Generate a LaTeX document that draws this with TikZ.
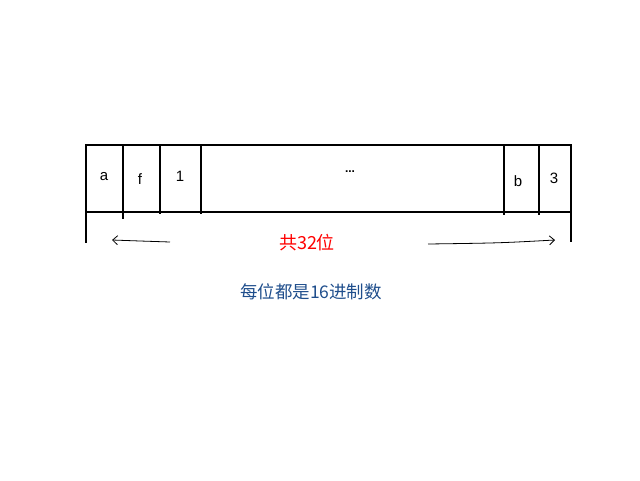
\documentclass[tikz,border=0pt]{standalone}
\usepackage{fontspec}
\setmainfont{Liberation Sans}
\newfontfamily\cjk{Noto Sans CJK SC}
\usetikzlibrary{arrows.meta}
\definecolor{redtxt}{HTML}{FF0000}
\definecolor{bluetxt}{HTML}{1F4E8C}
\begin{document}
\begin{tikzpicture}[x=1pt,y=-1pt,
  wall/.style={line width=2pt,black},
  cell/.style={font=\fontsize{15}{17}\selectfont,inner sep=0pt},
  hand/.style={line width=0.8pt,-{Straight Barb[length=5pt,width=9pt]}}]
\useasboundingbox (0,0) rectangle (640,480);
% outer box
\draw[wall] (86,145) rectangle (571,212);
\draw[wall] (123,145) -- (123,219);
\draw[wall] (160,145) -- (160,214);
\draw[wall] (201,145) -- (201,214);
\draw[wall] (504,145) -- (504,215);
\draw[wall] (539,145) -- (539,215);
\draw[wall] (86,212) -- (86,243);
\draw[wall] (571,212) -- (571,242);
% cell labels
\node[cell] (ca) at (104,177) {a};
\node[cell] (cf) at (140,179) {f};
\node[cell] (c1) at (180,176) {1};
\node[cell,font=\bfseries\fontsize{12}{14}\selectfont] (cd) at (350,172) {...};
\node[cell] (cb) at (518,181) {b};
\node[cell] (c3) at (554,178) {3};
% arrows
\coordinate (la) at (170,242);
\coordinate (lb) at (112,240);
\coordinate (ra) at (428,244);
\coordinate (rb) at (555,240);
\draw[hand] (la) .. controls (140,241) .. (lb);
\draw[hand] (ra) .. controls (500,243) .. (rb);
% texts
\node[text=redtxt,font=\cjk\fontsize{18}{20}\selectfont] (t1) at (307,243) {共32位};
\node[text=bluetxt,font=\cjk\fontsize{17.5}{20}\selectfont] (t2) at (311,292) {每位都是16进制数};
\end{tikzpicture}
\end{document}
